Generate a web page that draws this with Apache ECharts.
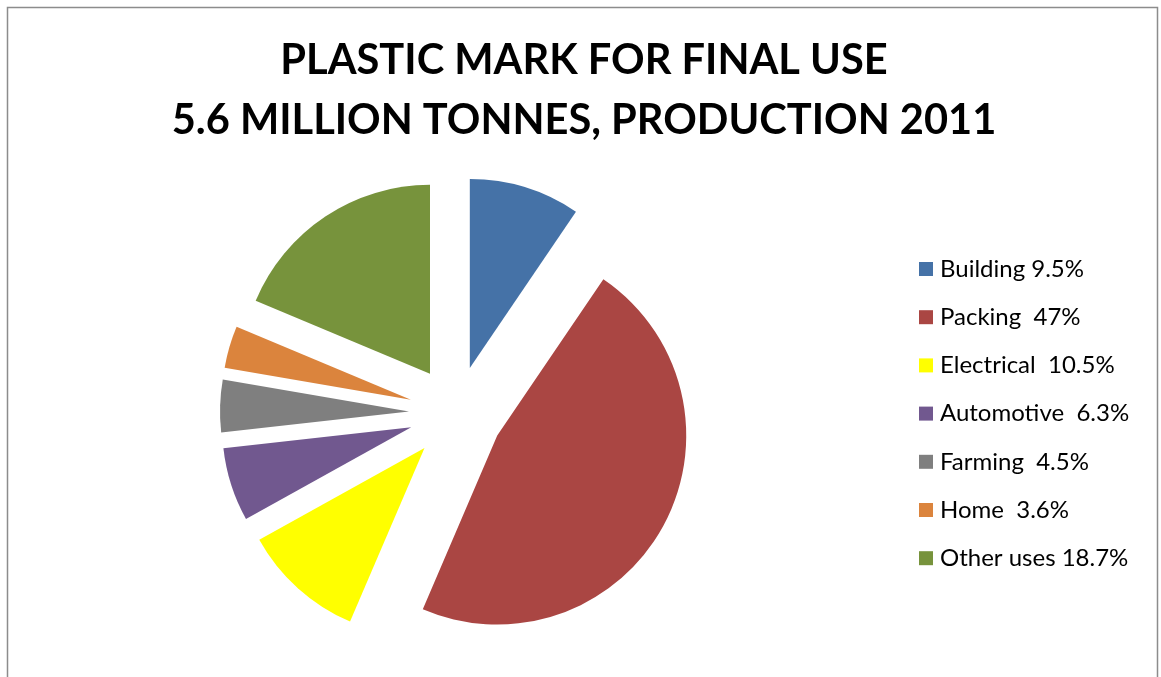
<!DOCTYPE html>
<html>
<head>
<meta charset="utf-8">
<script src="https://cdn.jsdelivr.net/npm/echarts@6/dist/echarts.min.js"></script>
<style>
  html, body { margin: 0; padding: 0; background: #fff; }
  #chart { width: 1161px; height: 677px; }
</style>
</head>
<body>
<div id="chart"></div>
<script>
// Plastic end-use shares, 2011 production
const categories = ['Building', 'Packing', 'Electrical', 'Automotive', 'Farming', 'Home', 'Other uses'];
const shares = [9.5, 47, 10.5, 6.3, 4.5, 3.6, 18.7];
const legendLabels = ['Building 9.5%', 'Packing  47%', 'Electrical  10.5%', 'Automotive  6.3%', 'Farming  4.5%', 'Home  3.6%', 'Other uses 18.7%'];
const colors = ['#4572A7', '#AA4643', '#FFFF00', '#71588F', '#7F7F7F', '#DB843D', '#77933C'];
const titleLines = ['PLASTIC MARK FOR FINAL USE', '5.6 MILLION TONNES, PRODUCTION 2011'];

const chart = echarts.init(document.getElementById('chart'), null, { renderer: 'canvas' });

const labelOf = {};
categories.forEach((c, i) => { labelOf[c] = legendLabels[i]; });

chart.setOption({
  animation: false,
  color: colors,
  graphic: [{
    type: 'rect',
    shape: { x: 7.5, y: 7.5, width: 1150, height: 700 },
    style: { fill: 'none', stroke: '#8c8c8c', lineWidth: 1.5 },
    silent: true
  }],
  title: {
    text: titleLines.join('\n'),
    left: 579,
    textAlign: 'center',
    top: 26,
    textStyle: {
      fontFamily: 'Lato',
      fontWeight: 'bold',
      fontSize: 41.6,
      lineHeight: 60,
      color: '#000'
    }
  },
  legend: {
    orient: 'vertical',
    left: 914,
    top: 252,
    itemWidth: 14,
    itemHeight: 14,
    itemGap: 24.2,
    icon: 'rect',
    selectedMode: false,
    formatter: name => labelOf[name],
    textStyle: {
      fontFamily: 'Lato',
      fontSize: 24,
      lineHeight: 24,
      color: '#000',
      padding: [0, 0, 0, 2]
    },
    data: categories
  },
  series: [{
    type: 'pie',
    center: [456, 413],
    radius: 189,
    startAngle: 90,
    clockwise: true,
    selectedMode: 'multiple',
    selectedOffset: 47,
    label: { show: false },
    labelLine: { show: false },
    emphasis: { disabled: true },
    select: { itemStyle: { borderWidth: 0 } },
    itemStyle: { borderWidth: 0 },
    data: categories.map((c, i) => ({ name: c, value: shares[i], selected: true }))
  }]
});
</script>
</body>
</html>
